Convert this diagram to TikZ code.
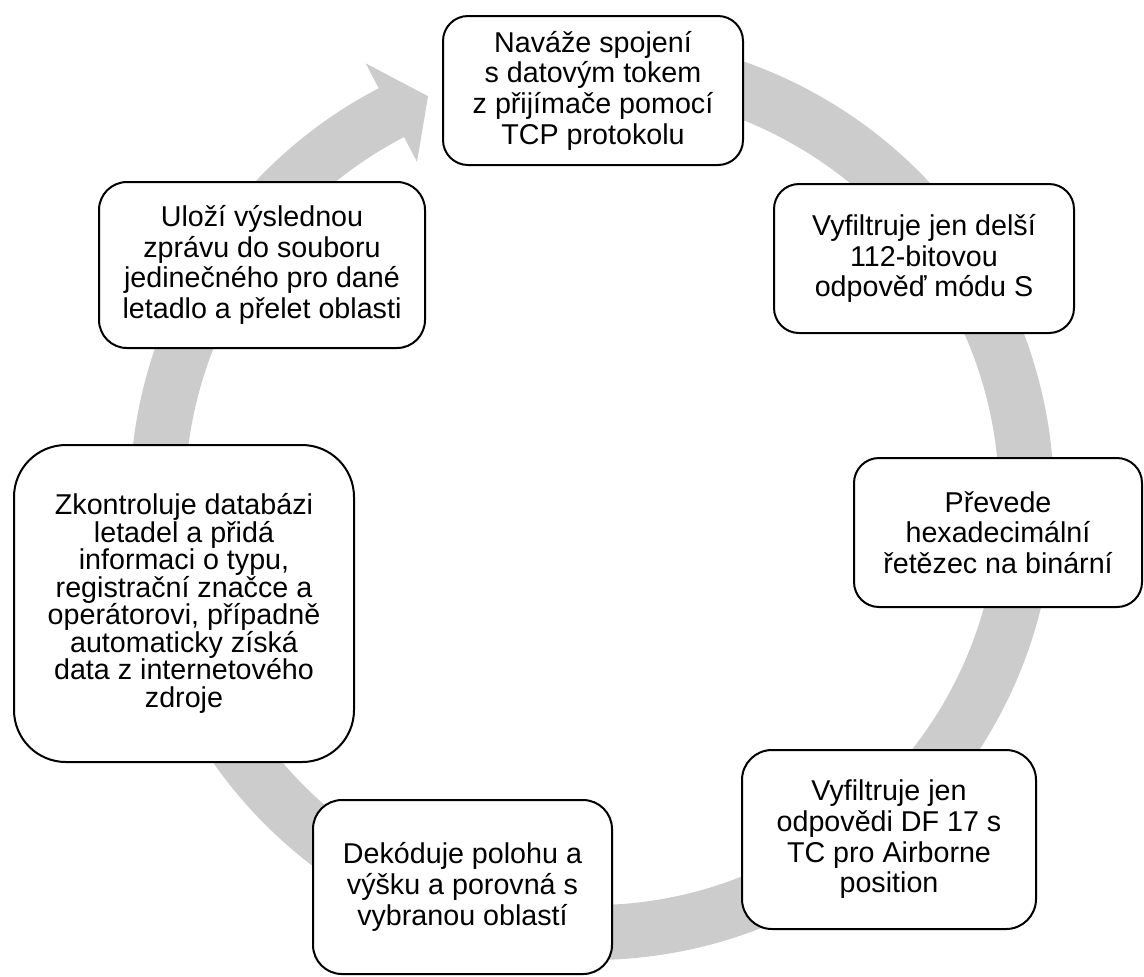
\documentclass[tikz,border=0pt]{standalone}
\usepackage{fontspec}
\setmainfont{Liberation Sans}
\colorlet{ring}{black!20}
\tikzset{
  stage/.style = {
    draw,
    line width=1.5pt,
    fill=white,
    align=center,
    inner sep=0pt,
    font=\fontsize{21.5pt}{23pt}\selectfont
  }
}

\begin{document}
\begin{tikzpicture}[x=0.75pt,y=-0.75pt]
  \useasboundingbox (0,0) rectangle (1144,976);
  % the circular arrow behind the boxes
  \begin{scope}[shift={(592,498)}]
    \fill[ring] (-95:462) arc[start angle=-95, end angle=242.5, radius=462]
      -- (242.5:490) -- (247.8:434) -- (242.5:379) -- (242.5:407)
      arc[start angle=242.5, end angle=-95, radius=407] -- cycle;
  \end{scope}
  \node[stage, minimum width=225pt, minimum height=111.75pt, rounded corners=18.75pt] (spoj) at (593,90.5)
    {Naváže spojení\\s datovým tokem\\z přijímače pomocí\\TCP protokolu};
  \node[stage, minimum width=225pt, minimum height=111.75pt, rounded corners=18.75pt] (filtr) at (924,258.5)
    {Vyfiltruje jen delší\\112-bitovou\\odpověď módu S};
  \node[stage, minimum width=216pt, minimum height=111.75pt, rounded corners=18.75pt] (prevod) at (998,532.5)
    {Převede\\hexadecimální\\řetězec na binární};
  \node[stage, minimum width=220.5pt, minimum height=134.25pt, rounded corners=22.5pt] (df) at (889,839.5)
    {Vyfiltruje jen\\odpovědi DF 17 s\\TC pro Airborne\\position};
  \node[stage, minimum width=224.25pt, minimum height=130.5pt, rounded corners=21.75pt] (dekod) at (462.5,887)
    {Dekóduje polohu a\\výšku a porovná s\\vybranou oblastí};
  \node[stage, minimum width=255pt, minimum height=237.75pt, rounded corners=39pt,
        font=\fontsize{21.5pt}{20.6pt}\selectfont] (db) at (184,603.5)
    {Zkontroluje databázi\\letadel a přidá\\informaci o typu,\\registrační značce a\\operátorovi, případně\\automaticky získá\\data z internetového\\zdroje};
  \node[stage, minimum width=244.5pt, minimum height=124.5pt, rounded corners=21pt] (uloz) at (262,265)
    {Uloží výslednou\\zprávu do souboru\\jedinečného pro dané\\letadlo a přelet oblasti};
\end{tikzpicture}
\end{document}
